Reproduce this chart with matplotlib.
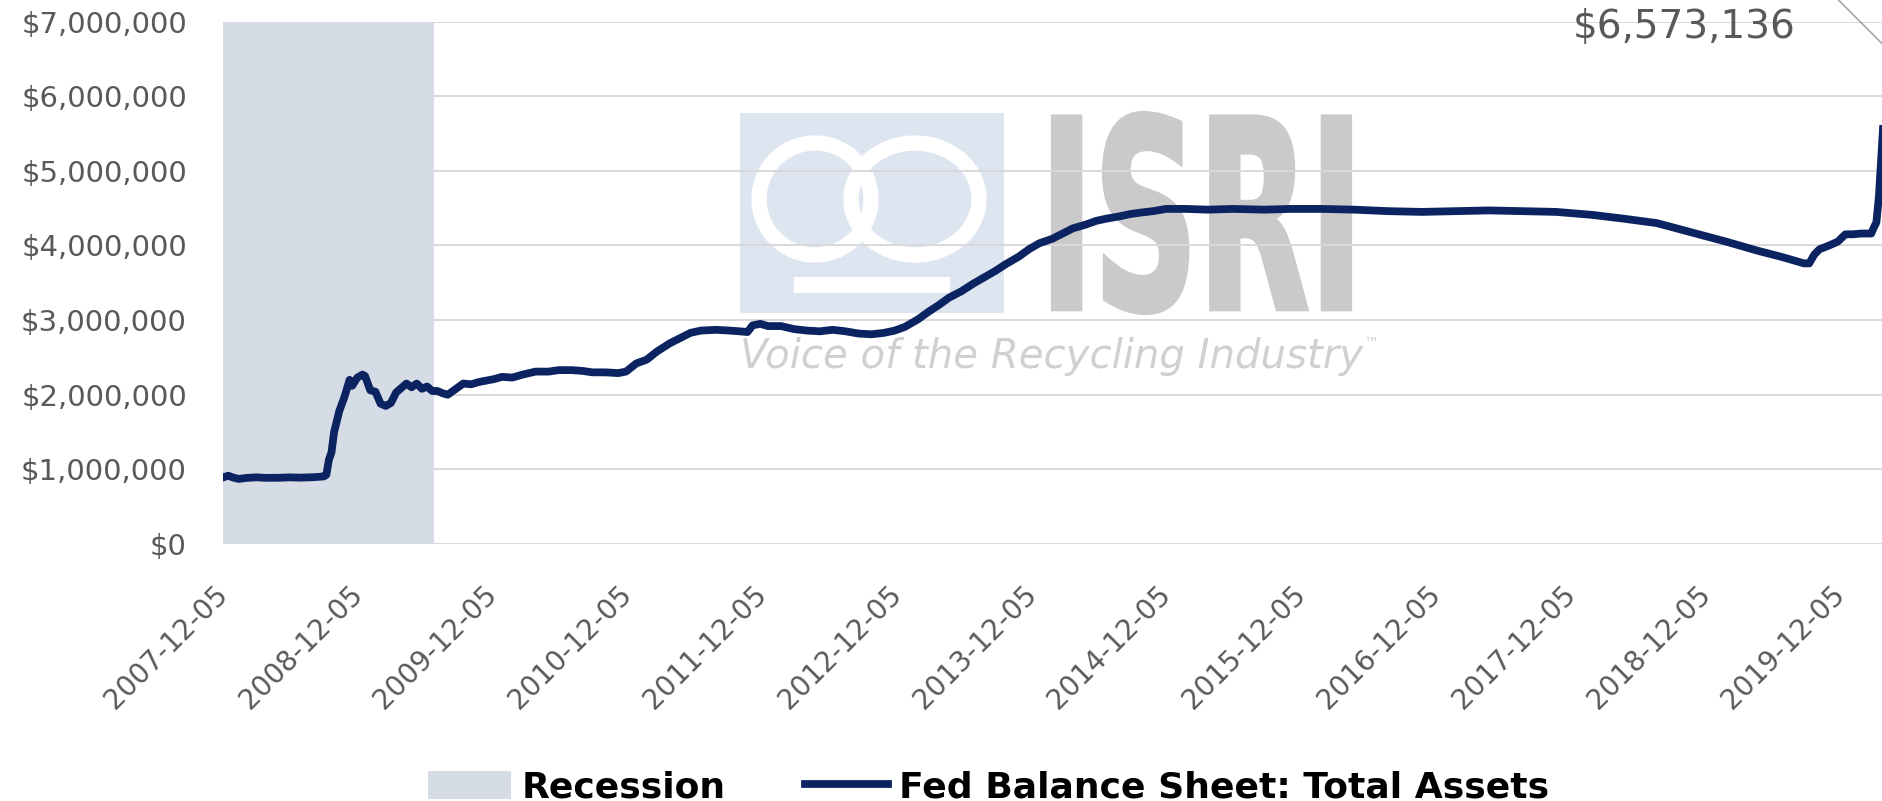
import matplotlib
matplotlib.use("Agg")
import matplotlib.pyplot as plt
import pandas as pd
from matplotlib.patches import Patch, Rectangle, Ellipse, PathPatch
from matplotlib.lines import Line2D
from matplotlib.textpath import TextPath
from matplotlib.font_manager import FontProperties
from matplotlib.transforms import IdentityTransform, Affine2D
from matplotlib.ticker import FuncFormatter

# Fed balance sheet, total assets ($ millions)
DATES = [
    "2007-12-05", "2007-12-19", "2008-01-02", "2008-01-16", "2008-02-06", "2008-03-05",
    "2008-04-02", "2008-05-07", "2008-06-04", "2008-07-02", "2008-08-06", "2008-09-03",
    "2008-09-10", "2008-09-17", "2008-09-24", "2008-10-01", "2008-10-15", "2008-10-29",
    "2008-11-12", "2008-11-19", "2008-12-03", "2008-12-17", "2008-12-24", "2009-01-07",
    "2009-01-21", "2009-02-04", "2009-02-18", "2009-03-04", "2009-03-18", "2009-04-01",
    "2009-04-15", "2009-04-29", "2009-05-13", "2009-05-27", "2009-06-10", "2009-06-24",
    "2009-07-08", "2009-07-22", "2009-08-05", "2009-08-19", "2009-09-02", "2009-09-16",
    "2009-10-07", "2009-10-28", "2009-11-18", "2009-12-09", "2009-12-30", "2010-01-27",
    "2010-02-24", "2010-03-31", "2010-05-05", "2010-06-02", "2010-07-07", "2010-08-04",
    "2010-09-01", "2010-10-06", "2010-11-10", "2010-12-01", "2010-12-29", "2011-01-26",
    "2011-02-23", "2011-03-30", "2011-04-27", "2011-05-25", "2011-06-22", "2011-08-03",
    "2011-09-07", "2011-10-05", "2011-10-26", "2011-11-09", "2011-11-30", "2011-12-21",
    "2012-01-25", "2012-02-29", "2012-04-04", "2012-05-09", "2012-06-13", "2012-07-18",
    "2012-08-22", "2012-09-26", "2012-10-31", "2012-11-28", "2012-12-26", "2013-01-30",
    "2013-02-27", "2013-03-27", "2013-04-24", "2013-05-29", "2013-06-26", "2013-07-31",
    "2013-08-28", "2013-09-25", "2013-10-30", "2013-11-27", "2013-12-25", "2014-01-29",
    "2014-02-26", "2014-03-26", "2014-04-30", "2014-05-28", "2014-06-25", "2014-07-30",
    "2014-08-27", "2014-09-24", "2014-10-29", "2014-12-03", "2015-01-28", "2015-03-25",
    "2015-06-03", "2015-08-26", "2015-11-04", "2016-01-27", "2016-04-27", "2016-07-27",
    "2016-10-26", "2017-01-25", "2017-04-26", "2017-07-26", "2017-10-25", "2018-01-31",
    "2018-04-25", "2018-07-25", "2018-10-31", "2019-01-30", "2019-04-24", "2019-06-26",
    "2019-08-28", "2019-09-11", "2019-09-25", "2019-10-09", "2019-10-30", "2019-11-27",
    "2019-12-18", "2020-01-08", "2020-01-29", "2020-02-26", "2020-03-04", "2020-03-11",
    "2020-03-18", "2020-03-25", "2020-04-01", "2020-04-08", "2020-04-15", "2020-04-22",
]
TOTAL_ASSETS = [
    891000, 915000, 890000, 872000, 885000, 893000,
    886000, 888000, 893000, 889000, 895000, 905000,
    927000, 1129000, 1230000, 1500000, 1780000, 1970000,
    2200000, 2120000, 2230000, 2270000, 2250000, 2060000,
    2040000, 1880000, 1850000, 1890000, 2030000, 2090000,
    2150000, 2100000, 2150000, 2080000, 2110000, 2050000,
    2050000, 2020000, 2000000, 2050000, 2100000, 2150000,
    2140000, 2170000, 2190000, 2210000, 2240000, 2230000,
    2270000, 2310000, 2310000, 2330000, 2330000, 2320000,
    2300000, 2300000, 2290000, 2310000, 2420000, 2470000,
    2580000, 2690000, 2760000, 2830000, 2860000, 2870000,
    2860000, 2850000, 2840000, 2930000, 2950000, 2920000,
    2920000, 2880000, 2860000, 2850000, 2870000, 2850000,
    2820000, 2810000, 2830000, 2860000, 2910000, 3010000,
    3110000, 3200000, 3300000, 3390000, 3480000, 3580000,
    3660000, 3750000, 3850000, 3950000, 4030000, 4090000,
    4160000, 4230000, 4280000, 4330000, 4360000, 4390000,
    4420000, 4440000, 4460000, 4490000, 4490000, 4480000,
    4490000, 4480000, 4490000, 4490000, 4480000, 4460000,
    4450000, 4460000, 4470000, 4460000, 4450000, 4410000,
    4360000, 4300000, 4170000, 4050000, 3930000, 3850000,
    3760000, 3760000, 3880000, 3950000, 3990000, 4050000,
    4150000, 4150000, 4160000, 4160000, 4240000, 4310000,
    4670000, 5250000, 5810000, 6080000, 6370000, 6573136,
]
RECESSION = ("2007-12-05", "2009-06-30")
TICK_DATES = ["2007-12-05", "2008-12-05", "2009-12-05", "2010-12-05", "2011-12-05",
              "2012-12-05", "2013-12-05", "2014-12-05", "2015-12-05", "2016-12-05",
              "2017-12-05", "2018-12-05", "2019-12-05"]
Y_TICKS = [0, 1000000, 2000000, 3000000, 4000000, 5000000, 6000000, 7000000]
LAST_LABEL = "$6,573,136"
LEGEND_LABELS = ["Recession", "Fed Balance Sheet: Total Assets"]

NAVY = "#0B2461"
RECESSION_COLOR = "#D6DCE5"
GRID = "#D9D9D9"
TEXT_GREY = "#595959"
MARK_GREY = "#CACACA"

W, H = 1883, 801
dates = pd.to_datetime(DATES)
x_end = pd.Timestamp("2020-04-29")

# plot area geometry in output pixels (top-left origin)
left_px, top_px, bottom_px = 223, 21.6, 544
px_per_day = 134.8 / 365.25
width_px = (x_end - dates[0]).days * px_per_day

fig = plt.figure(figsize=(W / 100, H / 100), dpi=100)
ax = fig.add_axes([left_px / W, 1 - bottom_px / H, width_px / W, (bottom_px - top_px) / H])


def px(x, y):
    return (x, H - y)


ident = IdentityTransform()

# faded ISRI watermark behind the data
ax.add_patch(Rectangle(px(740, 313), 264, 200, transform=ident, fc="#DCE5F0", ec="none", zorder=0.2))
for cx, w in [(815, 112), (915, 128)]:
    ax.add_patch(Ellipse(px(cx, 199), w, 112, transform=ident, fc="none", ec="white", lw=11, zorder=0.25))
ax.add_patch(Rectangle(px(794, 293), 156, 16, transform=ident, fc="white", ec="none", zorder=0.25))

tp = TextPath((0, 0), "ISRI", size=100, prop=FontProperties(family="DejaVu Sans", weight="bold"))
ext = tp.get_extents()
fit = Affine2D().translate(-ext.x0, -ext.y0).scale(297 / ext.width, 200 / ext.height).translate(*px(1053, 313))
ax.add_patch(PathPatch(fit.transform_path(tp), transform=ident, fc=MARK_GREY, ec=MARK_GREY, lw=3, zorder=0.2))
ax.text(740, H - 357, "Voice of the Recycling Industry", transform=ident, fontsize=29, style="italic",
        color="#D0D0D0", ha="left", va="center", zorder=0.3)
ax.text(1364, H - 343, "™", transform=ident, fontsize=11, color="#D0D0D0", ha="left", va="center", zorder=0.3)

ax.axvspan(pd.Timestamp(RECESSION[0]), pd.Timestamp(RECESSION[1]), color=RECESSION_COLOR, lw=0, zorder=1)
ax.plot(dates, TOTAL_ASSETS, color=NAVY, lw=5.6, solid_joinstyle="round", zorder=3)

ax.set_xlim(dates[0], x_end)
ax.set_ylim(0, 7000000)
ax.set_yticks(Y_TICKS)
ax.yaxis.set_major_formatter(FuncFormatter(lambda v, p: f"${v:,.0f}"))
ax.set_xticks(pd.to_datetime(TICK_DATES))
ax.set_xticklabels(TICK_DATES, rotation=45, ha="right", va="center", rotation_mode="anchor")
ax.tick_params(axis="y", length=0, pad=26, labelsize=21, labelcolor=TEXT_GREY)
ax.tick_params(axis="x", length=0, pad=33, labelsize=20, labelcolor=TEXT_GREY)
ax.yaxis.grid(True, color=GRID, lw=1.4)
ax.set_axisbelow(True)
for s in ax.spines.values():
    s.set_visible(False)

last_x, last_y = dates[-1], TOTAL_ASSETS[-1]
ax.annotate("", xy=(last_x, last_y), xytext=(-60, 60), textcoords="offset pixels",
            arrowprops=dict(arrowstyle="-", color="#A6A6A6", lw=1.2, shrinkA=0, shrinkB=6),
            annotation_clip=False)
ax.annotate(LAST_LABEL, xy=(last_x, last_y), xytext=(-208, 26), textcoords="offset pixels",
            ha="center", va="center", fontsize=28, color=TEXT_GREY, annotation_clip=False)

handles = [Patch(fc=RECESSION_COLOR, ec="none"), Line2D([], [], color=NAVY, lw=5.6)]
fig.legend(handles, LEGEND_LABELS, loc="center", bbox_to_anchor=(0.525, 0.017), ncol=2, frameon=False,
           prop=FontProperties(weight="bold", size=26), handlelength=2.3, handleheight=0.8,
           handletextpad=0.3, columnspacing=2.2)

fig.savefig("out.png", dpi=100, facecolor="white")
